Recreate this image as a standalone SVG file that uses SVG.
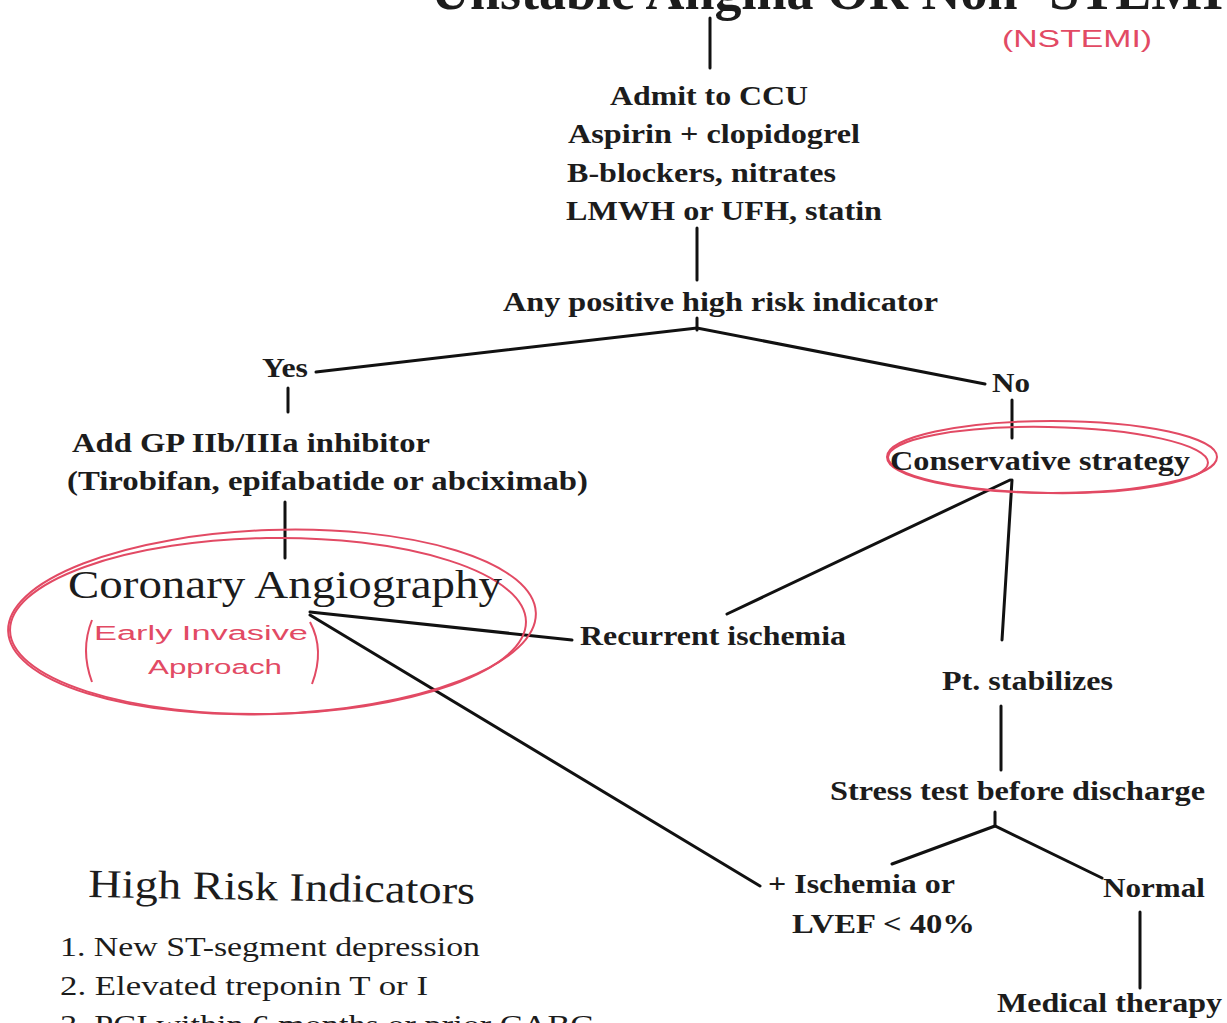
<svg xmlns="http://www.w3.org/2000/svg" width="1227" height="1023" viewBox="0 0 1227 1023">
<style>
.t{font-family:"Liberation Serif","Times New Roman",serif;font-weight:bold;font-size:28px;fill:#1c1c1c}
.big{font-family:"Liberation Serif","Times New Roman",serif;font-size:40px;fill:#1c1c1c}
.li{font-family:"Liberation Serif","Times New Roman",serif;font-size:28px;fill:#1c1c1c}
.hw{font-family:"Liberation Sans",Arial,sans-serif;fill:#e24a64}
.c{stroke:#111;stroke-width:3;fill:none;stroke-linecap:round}
.ring{stroke:#e24a64;stroke-width:2;fill:none}
</style>
<rect width="1227" height="1023" fill="#fff"/>
<g id="title">
<text class="t" x="431" y="9" style="font-size:54px">Unstable Angina OR Non- STEMI</text>
<text class="hw" x="1002" y="47" font-size="24" textLength="150" lengthAdjust="spacingAndGlyphs">(NSTEMI)</text>
</g>
<g id="connectors">
<line class="c" x1="710" y1="18" x2="710" y2="68"/>
<line class="c" x1="697" y1="228" x2="697" y2="280"/>
<polyline class="c" points="316,372 697,328 985,384"/>
<line class="c" x1="697" y1="318" x2="697" y2="330"/>
<line class="c" x1="288" y1="388" x2="288" y2="412"/>
<line class="c" x1="1012" y1="400" x2="1012" y2="438"/>
<line class="c" x1="285" y1="502" x2="285" y2="558"/>
<line class="c" x1="310" y1="612" x2="572" y2="640"/>
<line class="c" x1="310" y1="615" x2="760" y2="886"/>
<line class="c" x1="727" y1="614" x2="1010" y2="480"/>
<line class="c" x1="1012" y1="480" x2="1002" y2="640"/>
<line class="c" x1="1001" y1="706" x2="1001" y2="770"/>
<polyline class="c" points="892,864 995,826 1102,878"/>
<line class="c" x1="995" y1="812" x2="995" y2="826"/>
<line class="c" x1="1140" y1="912" x2="1140" y2="988"/>
</g>
<g id="n-admit">
<text class="t" x="610" y="105" textLength="198" lengthAdjust="spacingAndGlyphs">Admit to CCU</text>
<text class="t" x="568" y="143" textLength="292" lengthAdjust="spacingAndGlyphs">Aspirin + clopidogrel</text>
<text class="t" x="567" y="182" textLength="269" lengthAdjust="spacingAndGlyphs">B-blockers, nitrates</text>
<text class="t" x="566" y="220" textLength="316" lengthAdjust="spacingAndGlyphs">LMWH or UFH, statin</text>
</g>
<g id="n-any">
<text class="t" x="503" y="311" textLength="435" lengthAdjust="spacingAndGlyphs">Any positive high risk indicator</text>
</g>
<g id="n-yes"><text class="t" x="262" y="377" textLength="46" lengthAdjust="spacingAndGlyphs">Yes</text></g>
<g id="n-no"><text class="t" x="992" y="392" textLength="38" lengthAdjust="spacingAndGlyphs">No</text></g>
<g id="n-gp">
<text class="t" x="72" y="452" textLength="358" lengthAdjust="spacingAndGlyphs">Add GP IIb/IIIa inhibitor</text>
<text class="t" x="67" y="490" textLength="521" lengthAdjust="spacingAndGlyphs">(Tirobifan, epifabatide or abciximab)</text>
</g>
<g id="n-cons">
<ellipse class="ring" cx="1052" cy="457" rx="165" ry="36"/>
<ellipse class="ring" cx="1048" cy="460" rx="160" ry="33" transform="rotate(1 1048 460)"/>
<text class="t" x="890" y="470" textLength="300" lengthAdjust="spacingAndGlyphs">Conservative strategy</text>
</g>
<g id="n-cor">
<ellipse class="ring" cx="272" cy="622" rx="264" ry="92" transform="rotate(-2 272 622)"/>
<ellipse class="ring" cx="268" cy="626" rx="258" ry="88" transform="rotate(-1 268 626)"/>
<text class="big" x="68" y="598" textLength="434" lengthAdjust="spacingAndGlyphs">Coronary Angiography</text>
<path class="ring" d="M92,620 Q80,650 92,682"/>
<path class="ring" d="M310,622 Q325,650 312,684"/>
<text class="hw" x="94" y="640" font-size="20" textLength="214" lengthAdjust="spacingAndGlyphs">Early Invasive</text>
<text class="hw" x="148" y="674" font-size="20" textLength="134" lengthAdjust="spacingAndGlyphs">Approach</text>
</g>
<g id="n-rec"><text class="t" x="580" y="645" textLength="266" lengthAdjust="spacingAndGlyphs">Recurrent ischemia</text></g>
<g id="n-pt"><text class="t" x="942" y="690" textLength="171" lengthAdjust="spacingAndGlyphs">Pt. stabilizes</text></g>
<g id="n-stress"><text class="t" x="830" y="800" textLength="375" lengthAdjust="spacingAndGlyphs">Stress test before discharge</text></g>
<g id="n-isch">
<text class="t" x="768" y="893" textLength="187" lengthAdjust="spacingAndGlyphs">+ Ischemia or</text>
<text class="t" x="792" y="933" textLength="183" lengthAdjust="spacingAndGlyphs">LVEF &lt; 40%</text>
</g>
<g id="n-normal"><text class="t" x="1103" y="897" textLength="102" lengthAdjust="spacingAndGlyphs">Normal</text></g>
<g id="n-med"><text class="t" x="997" y="1012" textLength="225" lengthAdjust="spacingAndGlyphs">Medical therapy</text></g>
<g id="hri">
<text class="big" x="88" y="897" textLength="387" lengthAdjust="spacingAndGlyphs" transform="rotate(1 88 897)">High Risk Indicators</text>
<text class="li" x="60" y="956" textLength="420" lengthAdjust="spacingAndGlyphs">1. New ST-segment depression</text>
<text class="li" x="60" y="995" textLength="368" lengthAdjust="spacingAndGlyphs">2. Elevated treponin T or I</text>
<text class="li" x="60" y="1034" textLength="535" lengthAdjust="spacingAndGlyphs">3. PCI within 6 months or prior CABG</text>
</g>
</svg>
